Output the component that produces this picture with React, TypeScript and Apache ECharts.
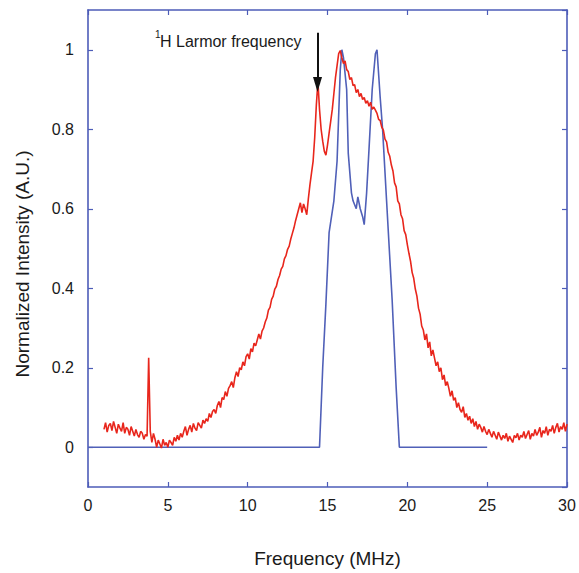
import React, { useEffect, useRef } from "react";
import * as echarts from "echarts";

const xTicks = [0, 5, 10, 15, 20, 25, 30];

const redStart = 1.0;
const redStep = 0.1;
const redIntensity = [
  0.045, 0.062, 0.038, 0.055, 0.06, 0.042, 0.065, 0.05, 0.035, 0.058,
  0.048, 0.04, 0.062, 0.035, 0.05, 0.045, 0.03, 0.052, 0.04, 0.028,
  0.045, 0.032, 0.025, 0.04, 0.035, 0.02, 0.032, 0.028, 0.225, 0.04,
  0.012, 0.035, 0.02, 0.0, 0.018, 0.008, -0.002, 0.02, 0.005, 0.012,
  0.0, 0.018, 0.012, 0.005, 0.025, 0.015, 0.03, 0.018, 0.035, 0.025,
  0.04, 0.052, 0.03, 0.045, 0.055, 0.038, 0.06, 0.048, 0.042, 0.062,
  0.055, 0.048, 0.068, 0.06, 0.072, 0.065, 0.085, 0.075, 0.09, 0.095,
  0.085, 0.105, 0.115, 0.1, 0.125, 0.12, 0.14, 0.128, 0.148, 0.155,
  0.165, 0.15, 0.175, 0.19, 0.178, 0.2, 0.195, 0.215, 0.205, 0.228,
  0.235, 0.222, 0.248, 0.24, 0.262, 0.255, 0.27, 0.285, 0.272, 0.292,
  0.3, 0.315, 0.325, 0.345, 0.352, 0.372, 0.38, 0.398, 0.405, 0.422,
  0.432, 0.448, 0.455, 0.474, 0.482, 0.498, 0.506, 0.524, 0.538, 0.552,
  0.57, 0.585, 0.6, 0.615, 0.59, 0.612, 0.6, 0.585, 0.625, 0.66,
  0.69, 0.72, 0.78, 0.86, 0.92, 0.85, 0.8, 0.77, 0.745, 0.735,
  0.76, 0.79, 0.82, 0.85, 0.89, 0.93, 0.96, 0.99, 0.998, 0.98,
  0.965, 0.972, 0.95, 0.945, 0.925, 0.93, 0.91, 0.912, 0.892, 0.9,
  0.882, 0.89, 0.875, 0.88, 0.865, 0.872, 0.858, 0.868, 0.85, 0.856,
  0.848, 0.84, 0.825, 0.822, 0.805, 0.798, 0.775, 0.768, 0.742, 0.732,
  0.71, 0.695, 0.665, 0.655, 0.62, 0.612, 0.585, 0.575, 0.545, 0.535,
  0.51, 0.488, 0.468, 0.44, 0.425, 0.398, 0.38, 0.35, 0.335, 0.305,
  0.295, 0.27, 0.285, 0.25, 0.265, 0.23, 0.245, 0.225, 0.205, 0.215,
  0.19, 0.2, 0.17, 0.182, 0.155, 0.165, 0.148, 0.128, 0.142, 0.118,
  0.125, 0.1, 0.112, 0.095, 0.088, 0.102, 0.075, 0.085, 0.068, 0.078,
  0.06, 0.072, 0.052, 0.065, 0.045, 0.058, 0.05, 0.038, 0.052, 0.04,
  0.032, 0.045, 0.035, 0.025, 0.04, 0.03, 0.02, 0.038, 0.028, 0.018,
  0.03, 0.022, 0.035, 0.015, 0.028, 0.02, 0.012, 0.03, 0.024, 0.035,
  0.018, 0.03, 0.025, 0.04, 0.022, 0.032, 0.042, 0.02, 0.035, 0.028,
  0.045, 0.03, 0.038, 0.05, 0.025, 0.042, 0.035, 0.052, 0.03, 0.045,
  0.04, 0.055, 0.035, 0.05, 0.06, 0.038, 0.052, 0.045, 0.062, 0.04,
  0.058,
];

const blueFreq = [
  0, 14.5, 14.7, 14.9, 15.1, 15.4, 15.6, 15.8, 15.9, 16.0, 16.2, 16.3, 16.5,
  16.6, 16.8, 16.9, 17.05, 17.2, 17.3, 17.45, 17.6, 17.8, 18.0, 18.1, 18.3,
  18.45, 18.7, 19.05, 19.3, 19.5, 25,
];
const blueIntensity = [
  0, 0, 0.2, 0.36, 0.54, 0.62, 0.72, 0.95, 1.0, 0.98, 0.9, 0.74, 0.64,
  0.62, 0.6, 0.63, 0.6, 0.58, 0.56, 0.64, 0.75, 0.9, 0.99, 1.0, 0.88,
  0.8, 0.62, 0.37, 0.15, 0, 0,
];

const larmorFreq = 14.375;
const arrowFrom = 1.0425;
const arrowTo = 0.9125;

const annotationText = "H Larmor frequency";
const annotationSup = "1";
const xTitle = "Frequency (MHz)";
const yTitle = "Normalized Intensity (A.U.)";

const AXIS_BLUE = "#4d5cb8";
const RED = "#e8261c";
const BLUE_LINE = "#5060b8";
const FONT = "'Liberation Sans', Arial, sans-serif";

export default function App() {
  const ref = useRef<HTMLDivElement>(null);

  useEffect(() => {
    if (!ref.current) return;
    const chart = echarts.init(ref.current, undefined, { renderer: "svg" });

    const redData = redIntensity.map((v, i) => [
      Math.round((redStart + i * redStep) * 100) / 100,
      v,
    ]);
    const blueData = blueFreq.map((f, i) => [f, blueIntensity[i]]);

    const tickStyle = { show: true, inside: true, length: 5, lineStyle: { color: AXIS_BLUE, width: 1.2 } };
    const lineStyle = { show: true, onZero: false, lineStyle: { color: AXIS_BLUE, width: 1.6 } };

    chart.setOption({
      animation: false,
      backgroundColor: "#ffffff",
      grid: { left: 88, top: 10, right: 12, bottom: 83, containLabel: false },
      xAxis: [
        {
          type: "value",
          min: 0,
          max: 30,
          interval: 5,
          position: "bottom",
          axisLine: lineStyle,
          axisTick: tickStyle,
          splitLine: { show: false },
          axisLabel: {
            margin: 10,
            color: "#1a1a1a",
            fontSize: 16,
            fontFamily: FONT,
            formatter: (v: number) => (xTicks.includes(v) ? String(v) : ""),
          },
          name: xTitle,
          nameLocation: "middle",
          nameGap: 62,
          nameTextStyle: { color: "#1a1a1a", fontSize: 19, fontFamily: FONT },
        },
        {
          type: "value",
          min: 0,
          max: 30,
          interval: 5,
          position: "top",
          axisLine: lineStyle,
          axisTick: tickStyle,
          axisLabel: { show: false },
          splitLine: { show: false },
        },
      ],
      yAxis: [
        {
          type: "value",
          min: -0.1,
          max: 1.1,
          splitNumber: 6,
          position: "left",
          axisLine: lineStyle,
          axisTick: tickStyle,
          splitLine: { show: false },
          axisLabel: {
            margin: 14,
            color: "#1a1a1a",
            fontSize: 16,
            fontFamily: FONT,
            showMinLabel: false,
            showMaxLabel: false,
          },
        },
        {
          type: "value",
          min: -0.1,
          max: 1.1,
          splitNumber: 6,
          position: "right",
          axisLine: lineStyle,
          axisTick: tickStyle,
          axisLabel: { show: false },
          splitLine: { show: false },
        },
      ],
      series: [
        {
          type: "line",
          name: "blue",
          data: blueData,
          showSymbol: false,
          symbol: "none",
          lineStyle: { color: BLUE_LINE, width: 1.6 },
          z: 2,
        },
        {
          type: "line",
          name: "red",
          data: redData,
          showSymbol: false,
          symbol: "none",
          lineStyle: { color: RED, width: 1.6 },
          z: 3,
          markLine: {
            silent: true,
            symbol: ["none", "triangle"],
            symbolSize: [9, 15],
            label: { show: false },
            lineStyle: { color: "#111111", width: 2, type: "solid" },
            data: [
              [
                { coord: [larmorFreq, arrowFrom] },
                { coord: [larmorFreq, arrowTo] },
              ],
            ],
          },
        },
      ],
      graphic: [
        {
          type: "text",
          x: 22,
          y: 264,
          rotation: Math.PI / 2,
          style: {
            text: yTitle,
            fill: "#1a1a1a",
            font: `19px ${FONT}`,
            align: "center",
            verticalAlign: "middle",
          },
        },
        {
          type: "text",
          x: 155,
          y: 34,
          style: {
            text: annotationSup,
            fill: "#1a1a1a",
            font: `10px ${FONT}`,
            align: "left",
            verticalAlign: "middle",
          },
        },
        {
          type: "text",
          x: 160,
          y: 41,
          style: {
            text: annotationText,
            fill: "#1a1a1a",
            font: `16px ${FONT}`,
            align: "left",
            verticalAlign: "middle",
          },
        },
      ],
    });

    return () => chart.dispose();
  }, []);

  return (
    <div
      ref={ref}
      style={{ position: "fixed", left: 0, top: 0, width: 579, height: 573 }}
    />
  );
}
